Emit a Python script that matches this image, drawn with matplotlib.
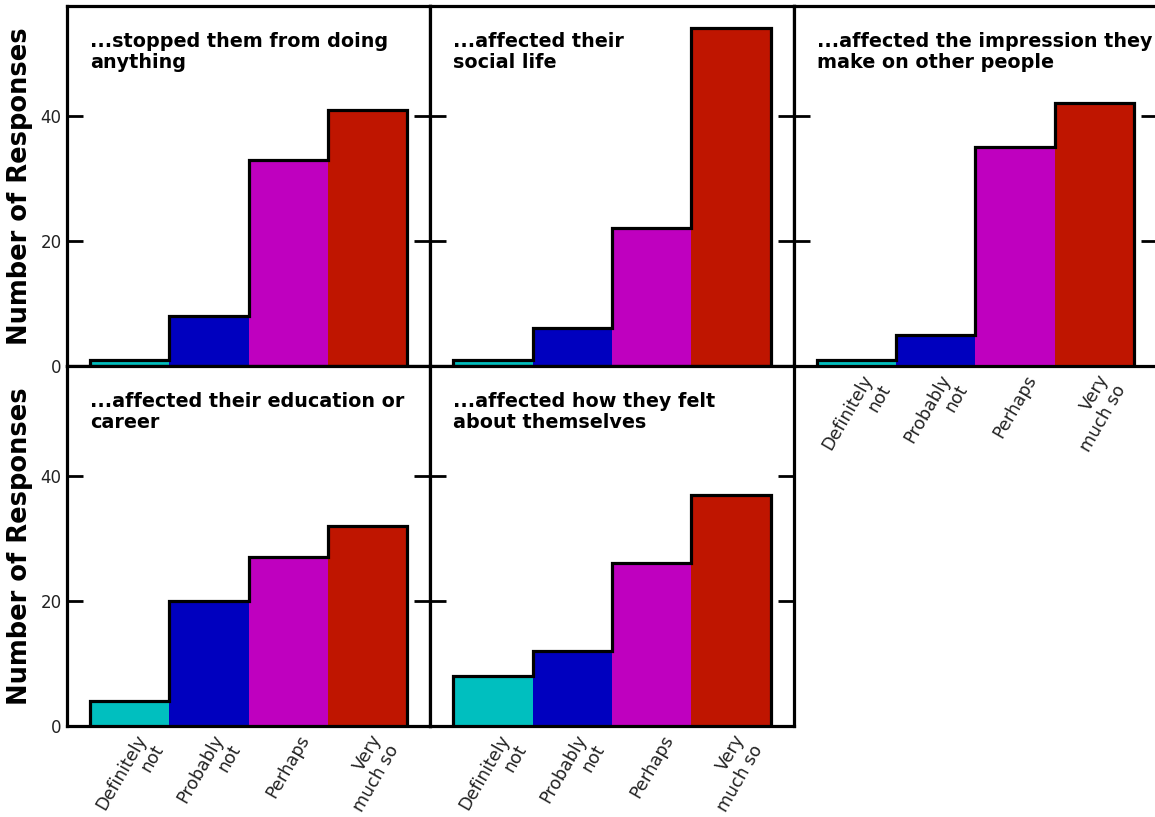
import numpy as np
import matplotlib
matplotlib.use("Agg")
import matplotlib.pyplot as plt

categories = ["Definitely\nnot", "Probably\nnot", "Perhaps", "Very\nmuch so"]
titles = [
    "...stopped them from doing\nanything",
    "...affected their\nsocial life",
    "...affected the impression they\nmake on other people",
    "...affected their education or\ncareer",
    "...affected how they felt\nabout themselves",
]
stopped_anything = [1, 8, 33, 41]
social_life = [1, 6, 22, 54]
impression = [1, 5, 35, 42]
education_career = [4, 20, 27, 32]
felt_about_selves = [8, 12, 26, 37]
series = [stopped_anything, social_life, impression, education_career, felt_about_selves]
bar_colors = ["#00BFBF", "#0000BF", "#BF00BF", "#BF1500"]
yticks = [0, 20, 40]

fig = plt.figure(figsize=(11.55, 8.17), dpi=100)
gs = fig.add_gridspec(2, 3, left=0.058, right=1.0017, top=0.9927, bottom=0.1114,
                      wspace=0, hspace=0)
positions = [(0, 0), (0, 1), (0, 2), (1, 0), (1, 1)]
x = np.arange(len(categories))
edges = np.arange(len(categories) + 1) - 0.5

for (r, c), vals, title in zip(positions, series, titles):
    ax = fig.add_subplot(gs[r, c])
    ax.bar(x, vals, width=1.0, color=bar_colors, edgecolor="none", zorder=1)
    ax.stairs(vals, edges, baseline=0, color="black", linewidth=2.3, zorder=2)
    ax.set_xlim(-0.79, 3.79)
    ax.set_ylim(0, 57.6)
    ax.set_yticks(yticks)
    for s in ax.spines.values():
        s.set_linewidth(2.3)
        s.set_zorder(3)
    ax.tick_params(axis="y", direction="in", length=11.5, width=2, left=True, right=True,
                   labelsize=12, pad=4, labelcolor="#222222")
    ax.tick_params(axis="x", length=0, labelsize=12.5, pad=4, labelcolor="#222222")
    ax.set_xticks(x)
    if r == 1 or c == 2:
        ax.set_xticklabels(categories, rotation=60, ha="center", multialignment="right",
                           rotation_mode="default", linespacing=1.15)
    else:
        ax.set_xticklabels([])
    if c == 0:
        ax.set_ylabel("Number of Responses", fontsize=18.5, fontweight="bold", labelpad=5)
    else:
        ax.set_yticklabels([])
    ax.text(0.063, 0.928, title, transform=ax.transAxes, ha="left", va="top",
            fontsize=13.8, fontweight="bold", linespacing=1.12)

fig.savefig("out.png", dpi=100)
